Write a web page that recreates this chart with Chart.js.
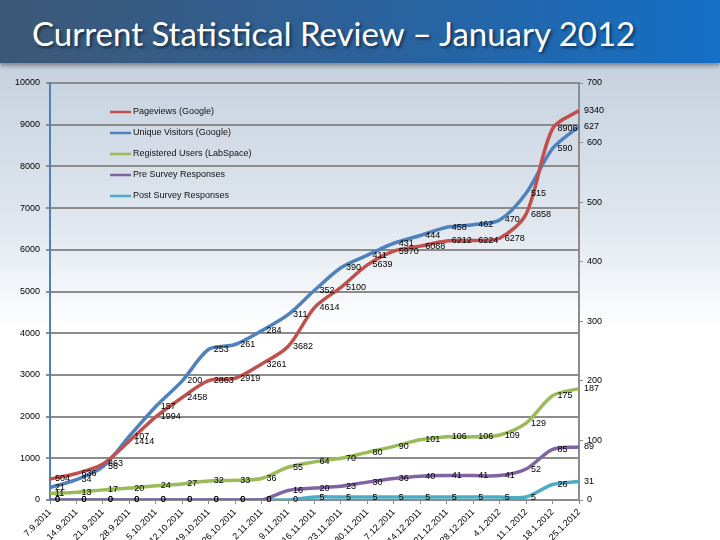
<!DOCTYPE html>
<html>
<head>
<meta charset="utf-8">
<script src="https://cdn.jsdelivr.net/npm/chart.js@4.4.1/dist/chart.umd.min.js"></script>
<style>
  html, body { margin: 0; padding: 0; }
  body {
    width: 720px; height: 540px; overflow: hidden; position: relative;
    background: linear-gradient(to bottom, #bccad9 0px, #c7d2df 70px, #dfe6ee 220px, #ffffff 330px, #ffffff 540px);
  }
  #banner {
    position: absolute; left: 0; top: 0; width: 720px; height: 63px;
    background: linear-gradient(to right, #3d5876 0%, #2c619a 50%, #146fc6 100%);
    box-shadow: 0 3px 4px rgba(0,0,0,0.35);
  }
  #banner h1 {
    margin: 0; position: absolute; left: 32px; top: 13px;
    font-family: Lato, "Open Sans", sans-serif; font-weight: normal;
    font-size: 33px; color: #fff; white-space: nowrap;
    text-shadow: 2px 2px 3px rgba(0,0,0,0.5);
  }
  #wrap { position: absolute; left: 0; top: 0; width: 720px; height: 540px; }
</style>
</head>
<body>
<div id="banner"><h1>Current Statistical Review – January 2012</h1></div>
<div id="wrap"><canvas id="grafico" width="720" height="540"></canvas></div>
<script>
// Dados
const datas = ['7.9.2011', '14.9.2011', '21.9.2011', '28.9.2011', '5.10.2011', '12.10.2011', '19.10.2011',
  '26.10.2011', '2.11.2011', '9.11.2011', '16.11.2011', '23.11.2011', '30.11.2011', '7.12.2011',
  '14.12.2011', '21.12.2011', '28.12.2011', '4.1.2012', '11.1.2012', '18.1.2012', '25.1.2012'];

const pageviews = [504, 636, 863, 1414, 1994, 2458, 2863, 2919, 3261, 3682, 4614, 5100, 5639, 5970, 6088, 6212, 6224, 6278, 6858, 8906, 9340];
const visitantes = [21, 34, 56, 107, 157, 200, 253, 261, 284, 311, 352, 390, 411, 431, 444, 458, 462, 470, 515, 590, 627];
const registrados = [11, 13, 17, 20, 24, 27, 32, 33, 36, 55, 64, 70, 80, 90, 101, 106, 106, 109, 129, 175, 187];
const preSurvey = [0, 0, 0, 0, 0, 0, 0, 0, 0, 16, 20, 23, 30, 36, 40, 41, 41, 41, 52, 85, 89];
const postSurvey = [0, 0, 0, 0, 0, 0, 0, 0, 0, 0, 5, 5, 5, 5, 5, 5, 5, 5, 5, 26, 31];

const ticksEsquerda = [0, 1000, 2000, 3000, 4000, 5000, 6000, 7000, 8000, 9000, 10000];
const ticksDireita = [0, 100, 200, 300, 400, 500, 600, 700];

const fonte = '"Liberation Sans", Arial, sans-serif';

function serie(label, data, cor, eixo) {
  return {
    label: label,
    data: data,
    borderColor: cor,
    backgroundColor: cor,
    borderWidth: 3.5,
    pointRadius: 0,
    tension: 0.3,
    fill: false,
    yAxisID: eixo
  };
}

// Rótulos de dados à direita de cada ponto
const rotulos = {
  id: 'rotulos',
  afterDatasetsDraw(chart) {
    const ctx = chart.ctx;
    ctx.save();
    ctx.font = '9px ' + fonte;
    ctx.fillStyle = '#000';
    ctx.textAlign = 'left';
    ctx.textBaseline = 'middle';
    chart.data.datasets.forEach((ds, i) => {
      const meta = chart.getDatasetMeta(i);
      meta.data.forEach((pt, j) => {
        ctx.fillText(String(ds.data[j]), pt.x + 5, pt.y);
      });
    });
    ctx.restore();
  }
};

// Legenda dentro da área do gráfico
const legenda = {
  id: 'legenda',
  afterDraw(chart) {
    const ctx = chart.ctx;
    ctx.save();
    ctx.font = '9px ' + fonte;
    ctx.textBaseline = 'middle';
    ctx.textAlign = 'left';
    chart.data.datasets.forEach((ds, i) => {
      const y = 112 + i * 21;
      ctx.strokeStyle = ds.borderColor;
      ctx.lineWidth = 2.5;
      ctx.beginPath();
      ctx.moveTo(110, y);
      ctx.lineTo(131, y);
      ctx.stroke();
      ctx.fillStyle = '#111';
      ctx.fillText(ds.label, 133, y);
    });
    ctx.restore();
  }
};

const ctx = document.getElementById('grafico').getContext('2d');
new Chart(ctx, {
  type: 'line',
  data: {
    labels: datas,
    datasets: [
      serie('Pageviews (Google)', pageviews, '#c0504d', 'yEsq'),
      serie('Unique Visitors (Google)', visitantes, '#4f81bd', 'yDir'),
      serie('Registered Users (LabSpace)', registrados, '#9bbb59', 'yDir'),
      serie('Pre Survey Responses', preSurvey, '#8064a2', 'yDir'),
      serie('Post Survey Responses', postSurvey, '#4bacc6', 'yDir')
    ]
  },
  options: {
    responsive: false,
    animation: false,
    layout: { padding: { top: 83, left: 0, right: 0, bottom: 0 } },
    plugins: {
      legend: { display: false },
      tooltip: { enabled: false }
    },
    scales: {
      x: {
        offset: false,
        grid: { drawOnChartArea: false, color: '#8c8c8c', tickLength: 4 },
        border: { color: '#8c8c8c', width: 1.5 },
        ticks: {
          font: { family: fonte, size: 9 }, color: '#000',
          minRotation: 45, maxRotation: 45, autoSkip: false, padding: 3
        },
        afterFit(scale) { scale.height = 40; }
      },
      yEsq: {
        position: 'left',
        min: 0, max: 10000,
        afterBuildTicks(scale) { scale.ticks = ticksEsquerda.map(v => ({ value: v })); },
        grid: { color: '#8c8c8c', lineWidth: 2, tickLength: 4, drawTicks: true },
        border: { color: '#4f81bd', width: 2 },
        ticks: { font: { family: fonte, size: 9 }, color: '#000', padding: 6, callback: v => String(v) },
        afterFit(scale) { scale.width = 50; }
      },
      yDir: {
        position: 'right',
        min: 0, max: 700,
        afterBuildTicks(scale) { scale.ticks = ticksDireita.map(v => ({ value: v })); },
        grid: { drawOnChartArea: false, color: '#8c8c8c', tickLength: 4 },
        border: { color: '#8c8c8c', width: 2 },
        ticks: { font: { family: fonte, size: 9 }, color: '#000', padding: 4, callback: v => String(v) },
        afterFit(scale) { scale.width = 141; }
      }
    }
  },
  plugins: [rotulos, legenda]
});
</script>
</body>
</html>
